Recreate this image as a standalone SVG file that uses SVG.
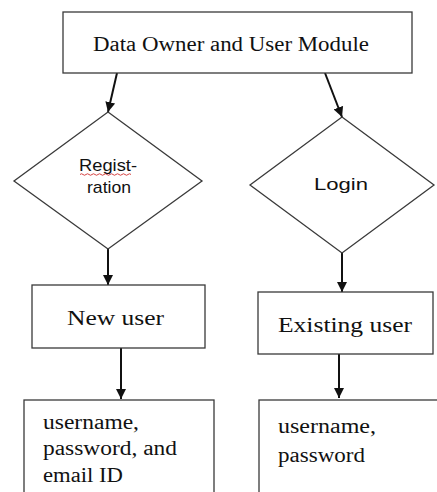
<svg xmlns="http://www.w3.org/2000/svg" width="437" height="492" viewBox="0 0 437 492">
<defs>
<style>
.box{fill:#fff;stroke:#3a3a3a;stroke-width:1.3}
.serif{font-family:"Liberation Serif","Times New Roman",serif;font-size:20px;fill:#111}
.sans{font-family:"Liberation Sans",Arial,sans-serif;font-size:17px;fill:#111}
.conn{stroke:#111;stroke-width:2;fill:none;marker-end:url(#ah)}
</style>
<marker id="ah" viewBox="0 0 10 10" refX="10" refY="5" markerWidth="10" markerHeight="11" markerUnits="userSpaceOnUse" orient="auto">
<path d="M0,0 L10,5 L0,10 z" fill="#111"/>
</marker>
</defs>
<rect width="437" height="492" fill="#fff"/>
<g id="connectors">
<line class="conn" x1="117" y1="73" x2="108" y2="112"/>
<line class="conn" x1="325" y1="73" x2="342" y2="117"/>
<line class="conn" x1="108" y1="249" x2="108" y2="285"/>
<line class="conn" x1="342" y1="253" x2="342" y2="292"/>
<line class="conn" x1="121" y1="348" x2="121" y2="399"/>
<line class="conn" x1="339" y1="354" x2="339" y2="398"/>
</g>
<g id="module">
<rect class="box" x="63" y="12" width="349" height="61"/>
<text class="serif" x="93" y="51" textLength="276" lengthAdjust="spacingAndGlyphs">Data Owner and User Module</text>
</g>
<g id="registration">
<polygon class="box" points="108,112 202,181 108,249 14,181"/>
<text class="sans" x="79" y="171" textLength="58" lengthAdjust="spacingAndGlyphs">Regist-</text>
<text class="sans" x="87" y="193" textLength="44" lengthAdjust="spacingAndGlyphs">ration</text>
<path d="M80,174.5 q1.5,-1.5 3,0 t3,0 t3,0 t3,0 t3,0 t3,0 t3,0 t3,0 t3,0 t3,0 t3,0 t3,0 t3,0 t3,0 t3,0 t3,0 t3,0" fill="none" stroke="#d03030" stroke-width="0.9"/>
</g>
<g id="login">
<polygon class="box" points="342,117 434,185 342,253 250,185"/>
<text class="sans" x="314" y="190" font-size="18" textLength="54" lengthAdjust="spacingAndGlyphs">Login</text>
</g>
<g id="newuser">
<rect class="box" x="32" y="285" width="173" height="63"/>
<text class="serif" x="67" y="325" font-size="21" textLength="97" lengthAdjust="spacingAndGlyphs">New user</text>
</g>
<g id="existinguser">
<rect class="box" x="258" y="292" width="175" height="62"/>
<text class="serif" x="278" y="332" font-size="21" textLength="134" lengthAdjust="spacingAndGlyphs">Existing user</text>
</g>
<g id="newfields">
<rect class="box" x="24" y="400" width="190" height="100"/>
<text class="serif" x="43" y="429" textLength="96" lengthAdjust="spacingAndGlyphs">username,</text>
<text class="serif" x="43" y="455" textLength="134" lengthAdjust="spacingAndGlyphs">password, and</text>
<text class="serif" x="43" y="482" textLength="80" lengthAdjust="spacingAndGlyphs">email ID</text>
</g>
<g id="existingfields">
<rect class="box" x="259" y="400" width="190" height="100"/>
<text class="serif" x="278" y="433" textLength="98" lengthAdjust="spacingAndGlyphs">username,</text>
<text class="serif" x="278" y="462" textLength="87" lengthAdjust="spacingAndGlyphs">password</text>
</g>
</svg>
